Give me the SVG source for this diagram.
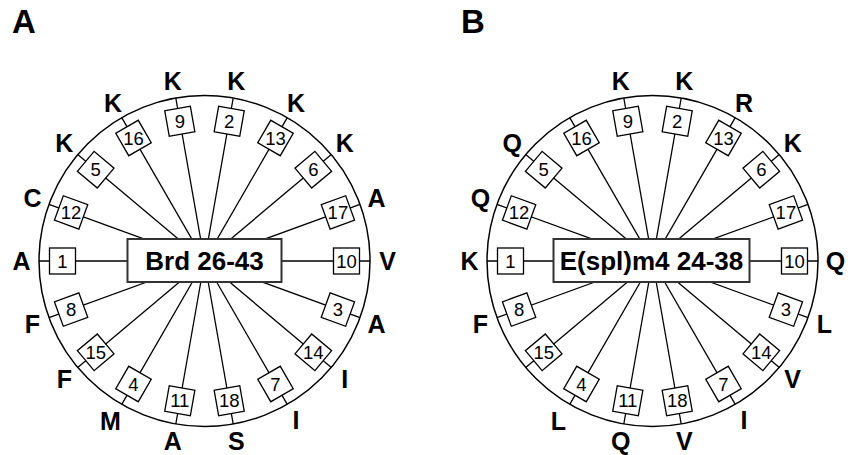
<svg xmlns="http://www.w3.org/2000/svg" width="855" height="455" viewBox="0 0 855 455">
<defs>
<style>
.ring{fill:none;stroke:#000;stroke-width:1.5}
.spoke{stroke:#000;stroke-width:1.3}
.bx rect{fill:#fff;stroke:#000;stroke-width:1.3}
.num{font-family:"Liberation Sans",Arial,sans-serif;font-size:18.5px;text-anchor:middle;fill:#000}
.res{font-family:"Liberation Sans",Arial,sans-serif;font-weight:bold;font-size:25px;text-anchor:middle;fill:#000}
.core rect{fill:#fff;stroke:#333;stroke-width:2}
.core text{font-family:"Liberation Sans",Arial,sans-serif;font-weight:bold;font-size:26px;text-anchor:middle;fill:#000}
.panel{font-family:"Liberation Sans",Arial,sans-serif;font-weight:bold;font-size:33px;fill:#000}
</style>
</defs>
<rect width="855" height="455" fill="#fff"/>
<text class="panel" x="12" y="33">A</text>
<text class="panel" x="461" y="33">B</text>

<!-- Wheel A -->
<g id="wheelA" transform="translate(204.5,261)">
<circle class="ring" cx="0" cy="0" r="165.5"/>
<g id="connectorsA" class="spoke">
<line x1="0" y1="0" x2="-165.5" y2="0"/>
<line x1="0" y1="0" x2="-155.5" y2="-56.6"/>
<line x1="0" y1="0" x2="-126.8" y2="-106.4"/>
<line x1="0" y1="0" x2="-82.75" y2="-143.3"/>
<line x1="0" y1="0" x2="-28.7" y2="-163"/>
<line x1="0" y1="0" x2="28.7" y2="-163"/>
<line x1="0" y1="0" x2="82.75" y2="-143.3"/>
<line x1="0" y1="0" x2="126.8" y2="-106.4"/>
<line x1="0" y1="0" x2="155.5" y2="-56.6"/>
<line x1="0" y1="0" x2="165.5" y2="0"/>
<line x1="0" y1="0" x2="155.5" y2="56.6"/>
<line x1="0" y1="0" x2="126.8" y2="106.4"/>
<line x1="0" y1="0" x2="82.75" y2="143.3"/>
<line x1="0" y1="0" x2="28.7" y2="163"/>
<line x1="0" y1="0" x2="-28.7" y2="163"/>
<line x1="0" y1="0" x2="-82.75" y2="143.3"/>
<line x1="0" y1="0" x2="-126.8" y2="106.4"/>
<line x1="0" y1="0" x2="-155.5" y2="56.6"/>
</g>
<g id="a1"><g class="bx" transform="translate(-142,0)"><rect x="-13" y="-13" width="26" height="26"/></g><text class="num" x="-142" y="6.5">1</text><text class="res" x="-183" y="9">A</text></g>
<g id="a12"><g class="bx" transform="translate(-133.4,-48.6) rotate(20)"><rect x="-13" y="-13" width="26" height="26"/></g><text class="num" x="-133.4" y="-42.1">12</text><text class="res" x="-172" y="-53.6">C</text></g>
<g id="a5"><g class="bx" transform="translate(-108.8,-91.3) rotate(40)"><rect x="-13" y="-13" width="26" height="26"/></g><text class="num" x="-108.8" y="-84.8">5</text><text class="res" x="-140.2" y="-108.6">K</text></g>
<g id="a16"><g class="bx" transform="translate(-71,-123) rotate(-30)"><rect x="-13" y="-13" width="26" height="26"/></g><text class="num" x="-71" y="-116.5">16</text><text class="res" x="-91.5" y="-149.5">K</text></g>
<g id="a9"><g class="bx" transform="translate(-24.7,-139.8) rotate(-10)"><rect x="-13" y="-13" width="26" height="26"/></g><text class="num" x="-24.7" y="-133.3">9</text><text class="res" x="-31.8" y="-171.2">K</text></g>
<g id="a2"><g class="bx" transform="translate(24.7,-139.8) rotate(10)"><rect x="-13" y="-13" width="26" height="26"/></g><text class="num" x="24.7" y="-133.3">2</text><text class="res" x="31.8" y="-171.2">K</text></g>
<g id="a13"><g class="bx" transform="translate(71,-123) rotate(30)"><rect x="-13" y="-13" width="26" height="26"/></g><text class="num" x="71" y="-116.5">13</text><text class="res" x="91.5" y="-149.5">K</text></g>
<g id="a6"><g class="bx" transform="translate(108.8,-91.3) rotate(-40)"><rect x="-13" y="-13" width="26" height="26"/></g><text class="num" x="108.8" y="-84.8">6</text><text class="res" x="140.2" y="-108.6">K</text></g>
<g id="a17"><g class="bx" transform="translate(133.4,-48.6) rotate(-20)"><rect x="-13" y="-13" width="26" height="26"/></g><text class="num" x="133.4" y="-42.1">17</text><text class="res" x="172" y="-53.6">A</text></g>
<g id="a10"><g class="bx" transform="translate(142,0)"><rect x="-13" y="-13" width="26" height="26"/></g><text class="num" x="142" y="6.5">10</text><text class="res" x="183" y="9">V</text></g>
<g id="a3"><g class="bx" transform="translate(133.4,48.6) rotate(20)"><rect x="-13" y="-13" width="26" height="26"/></g><text class="num" x="133.4" y="55.1">3</text><text class="res" x="172" y="71.6">A</text></g>
<g id="a14"><g class="bx" transform="translate(108.8,91.3) rotate(40)"><rect x="-13" y="-13" width="26" height="26"/></g><text class="num" x="108.8" y="97.8">14</text><text class="res" x="140.2" y="126.6">I</text></g>
<g id="a7"><g class="bx" transform="translate(71,123) rotate(-30)"><rect x="-13" y="-13" width="26" height="26"/></g><text class="num" x="71" y="129.5">7</text><text class="res" x="91.5" y="167.5">I</text></g>
<g id="a18"><g class="bx" transform="translate(24.7,139.8) rotate(-10)"><rect x="-13" y="-13" width="26" height="26"/></g><text class="num" x="24.7" y="146.3">18</text><text class="res" x="31.8" y="189.2">S</text></g>
<g id="a11"><g class="bx" transform="translate(-24.7,139.8) rotate(10)"><rect x="-13" y="-13" width="26" height="26"/></g><text class="num" x="-24.7" y="146.3">11</text><text class="res" x="-31.8" y="189.2">A</text></g>
<g id="a4"><g class="bx" transform="translate(-71,123) rotate(30)"><rect x="-13" y="-13" width="26" height="26"/></g><text class="num" x="-71" y="129.5">4</text><text class="res" x="-94" y="169">M</text></g>
<g id="a15"><g class="bx" transform="translate(-108.8,91.3) rotate(-40)"><rect x="-13" y="-13" width="26" height="26"/></g><text class="num" x="-108.8" y="97.8">15</text><text class="res" x="-140.2" y="126.6">F</text></g>
<g id="a8"><g class="bx" transform="translate(-133.4,48.6) rotate(-20)"><rect x="-13" y="-13" width="26" height="26"/></g><text class="num" x="-133.4" y="55.1">8</text><text class="res" x="-172" y="71.6">F</text></g>
<g id="coreA" class="core"><rect x="-77" y="-22" width="154" height="43"/><text x="0" y="9">Brd 26-43</text></g>
</g>

<!-- Wheel B -->
<g id="wheelB" transform="translate(652.5,261)">
<circle class="ring" cx="0" cy="0" r="165.5"/>
<g id="connectorsB" class="spoke">
<line x1="0" y1="0" x2="-165.5" y2="0"/>
<line x1="0" y1="0" x2="-155.5" y2="-56.6"/>
<line x1="0" y1="0" x2="-126.8" y2="-106.4"/>
<line x1="0" y1="0" x2="-82.75" y2="-143.3"/>
<line x1="0" y1="0" x2="-28.7" y2="-163"/>
<line x1="0" y1="0" x2="28.7" y2="-163"/>
<line x1="0" y1="0" x2="82.75" y2="-143.3"/>
<line x1="0" y1="0" x2="126.8" y2="-106.4"/>
<line x1="0" y1="0" x2="155.5" y2="-56.6"/>
<line x1="0" y1="0" x2="165.5" y2="0"/>
<line x1="0" y1="0" x2="155.5" y2="56.6"/>
<line x1="0" y1="0" x2="126.8" y2="106.4"/>
<line x1="0" y1="0" x2="82.75" y2="143.3"/>
<line x1="0" y1="0" x2="28.7" y2="163"/>
<line x1="0" y1="0" x2="-28.7" y2="163"/>
<line x1="0" y1="0" x2="-82.75" y2="143.3"/>
<line x1="0" y1="0" x2="-126.8" y2="106.4"/>
<line x1="0" y1="0" x2="-155.5" y2="56.6"/>
</g>
<g id="b1"><g class="bx" transform="translate(-142,0)"><rect x="-13" y="-13" width="26" height="26"/></g><text class="num" x="-142" y="6.5">1</text><text class="res" x="-183" y="9">K</text></g>
<g id="b12"><g class="bx" transform="translate(-133.4,-48.6) rotate(20)"><rect x="-13" y="-13" width="26" height="26"/></g><text class="num" x="-133.4" y="-42.1">12</text><text class="res" x="-172" y="-53.6">Q</text></g>
<g id="b5"><g class="bx" transform="translate(-108.8,-91.3) rotate(40)"><rect x="-13" y="-13" width="26" height="26"/></g><text class="num" x="-108.8" y="-84.8">5</text><text class="res" x="-140.2" y="-108.6">Q</text></g>
<g id="b16"><g class="bx" transform="translate(-71,-123) rotate(-30)"><rect x="-13" y="-13" width="26" height="26"/></g><text class="num" x="-71" y="-116.5">16</text></g>
<g id="b9"><g class="bx" transform="translate(-24.7,-139.8) rotate(-10)"><rect x="-13" y="-13" width="26" height="26"/></g><text class="num" x="-24.7" y="-133.3">9</text><text class="res" x="-31.8" y="-171.2">K</text></g>
<g id="b2"><g class="bx" transform="translate(24.7,-139.8) rotate(10)"><rect x="-13" y="-13" width="26" height="26"/></g><text class="num" x="24.7" y="-133.3">2</text><text class="res" x="31.8" y="-171.2">K</text></g>
<g id="b13"><g class="bx" transform="translate(71,-123) rotate(30)"><rect x="-13" y="-13" width="26" height="26"/></g><text class="num" x="71" y="-116.5">13</text><text class="res" x="91.5" y="-149.5">R</text></g>
<g id="b6"><g class="bx" transform="translate(108.8,-91.3) rotate(-40)"><rect x="-13" y="-13" width="26" height="26"/></g><text class="num" x="108.8" y="-84.8">6</text><text class="res" x="140.2" y="-108.6">K</text></g>
<g id="b17"><g class="bx" transform="translate(133.4,-48.6) rotate(-20)"><rect x="-13" y="-13" width="26" height="26"/></g><text class="num" x="133.4" y="-42.1">17</text></g>
<g id="b10"><g class="bx" transform="translate(142,0)"><rect x="-13" y="-13" width="26" height="26"/></g><text class="num" x="142" y="6.5">10</text><text class="res" x="183" y="9">Q</text></g>
<g id="b3"><g class="bx" transform="translate(133.4,48.6) rotate(20)"><rect x="-13" y="-13" width="26" height="26"/></g><text class="num" x="133.4" y="55.1">3</text><text class="res" x="172" y="71.6">L</text></g>
<g id="b14"><g class="bx" transform="translate(108.8,91.3) rotate(40)"><rect x="-13" y="-13" width="26" height="26"/></g><text class="num" x="108.8" y="97.8">14</text><text class="res" x="140.2" y="126.6">V</text></g>
<g id="b7"><g class="bx" transform="translate(71,123) rotate(-30)"><rect x="-13" y="-13" width="26" height="26"/></g><text class="num" x="71" y="129.5">7</text><text class="res" x="91.5" y="167.5">I</text></g>
<g id="b18"><g class="bx" transform="translate(24.7,139.8) rotate(-10)"><rect x="-13" y="-13" width="26" height="26"/></g><text class="num" x="24.7" y="146.3">18</text><text class="res" x="31.8" y="189.2">V</text></g>
<g id="b11"><g class="bx" transform="translate(-24.7,139.8) rotate(10)"><rect x="-13" y="-13" width="26" height="26"/></g><text class="num" x="-24.7" y="146.3">11</text><text class="res" x="-31.8" y="189.2">Q</text></g>
<g id="b4"><g class="bx" transform="translate(-71,123) rotate(30)"><rect x="-13" y="-13" width="26" height="26"/></g><text class="num" x="-71" y="129.5">4</text><text class="res" x="-94" y="169">L</text></g>
<g id="b15"><g class="bx" transform="translate(-108.8,91.3) rotate(-40)"><rect x="-13" y="-13" width="26" height="26"/></g><text class="num" x="-108.8" y="97.8">15</text></g>
<g id="b8"><g class="bx" transform="translate(-133.4,48.6) rotate(-20)"><rect x="-13" y="-13" width="26" height="26"/></g><text class="num" x="-133.4" y="55.1">8</text><text class="res" x="-172" y="71.6">F</text></g>
<g id="coreB" class="core"><rect x="-99" y="-22" width="196" height="43"/><text x="-1" y="9">E(spl)m4 24-38</text></g>
</g>
</svg>
